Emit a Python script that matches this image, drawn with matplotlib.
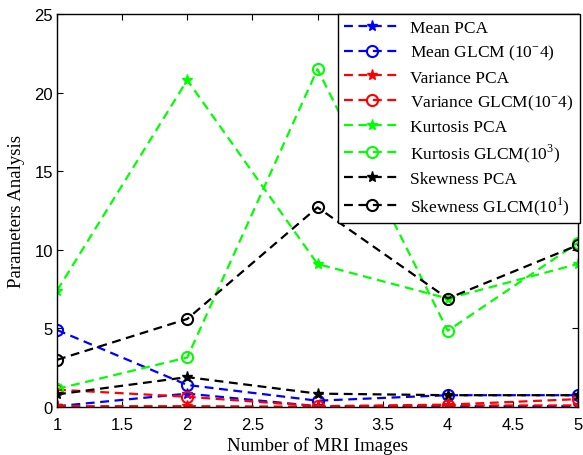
import numpy as np
import matplotlib
matplotlib.use('Agg')
import matplotlib.pyplot as plt

# number of MRI images
images = [1, 2, 3, 4, 5]

mean_pca = [0.05, 0.85, 0.05, 0.05, 0.05]
mean_glcm = [4.9, 1.4, 0.4, 0.75, 0.75]
var_pca = [0.05, 0.05, 0.02, 0.1, 0.1]
var_glcm = [1.1, 0.65, 0.05, 0.15, 0.5]
kurt_pca = [7.4, 20.8, 9.1, 6.9, 9.1]
kurt_glcm = [1.15, 3.15, 21.5, 4.85, 10.45]
skew_pca = [0.8, 1.9, 0.85, 0.75, 0.75]
skew_glcm = [3.0, 5.6, 12.7, 6.9, 10.3]

labels = ['Mean PCA', 'Mean GLCM (10$^{\\mathregular{-}}$4)', 'Variance PCA',
          'Variance GLCM(10$^{\\mathregular{-}}$4)', 'Kurtosis PCA',
          'Kurtosis GLCM(10$^{\\mathregular{3}}$)', 'Skewness PCA',
          'Skewness GLCM(10$^{\\mathregular{1}}$)']

plt.rcParams['mathtext.fontset'] = 'custom'
plt.rcParams['mathtext.rm'] = 'Liberation Serif'
plt.rcParams['font.family'] = 'Liberation Sans'

fig = plt.figure(figsize=(5.83, 4.56), dpi=100)
ax = fig.add_axes([0.0978, 0.1053, 0.8936, 0.8617])

series = [mean_pca, mean_glcm, var_pca, var_glcm, kurt_pca, kurt_glcm, skew_pca, skew_glcm]
colors = ['#0000ff', '#0000ff', '#ff0000', '#ff0000', '#00ff00', '#00ff00', 'k', 'k']
for i, s in enumerate(series):
    if i % 2 == 0:
        ax.plot(images, s, '--', color=colors[i], lw=1.6, marker='*', ms=8,
                dashes=(4, 2.5), label=labels[i])
    else:
        ax.plot(images, s, '--', color=colors[i], lw=1.6, marker='o', ms=8,
                mfc='none', mew=1.5, dashes=(4, 2.5), label=labels[i])

ax.set_xlim(1, 5)
ax.set_ylim(0, 25)
ax.set_xticks(np.arange(1, 5.01, 0.5))
ax.set_xticklabels(['1', '1.5', '2', '2.5', '3', '3.5', '4', '4.5', '5'])
ax.set_yticks([0, 5, 10, 15, 20, 25])
ax.tick_params(direction='in', top=True, right=True, labelsize=12, length=4)
ax.tick_params(axis='x', pad=7)
ax.tick_params(axis='y', pad=3)
for sp in ax.spines.values():
    sp.set_linewidth(1.0)

ax.set_xlabel('Number of MRI Images', family='Liberation Serif', fontsize=13.5, labelpad=3)
ax.set_ylabel('Parameters Analysis', family='Liberation Serif', fontsize=13.5, labelpad=7)

leg = ax.legend(loc='upper right', bbox_to_anchor=(1.004, 1.0), fancybox=False,
                framealpha=1, edgecolor='k', prop={'family': 'Liberation Serif', 'size': 12.5},
                handlelength=3.2, labelspacing=0.4, borderpad=0.35, handletextpad=0.6,
                borderaxespad=0)
leg.get_frame().set_linewidth(1.0)

fig.savefig('out.png', dpi=100)
